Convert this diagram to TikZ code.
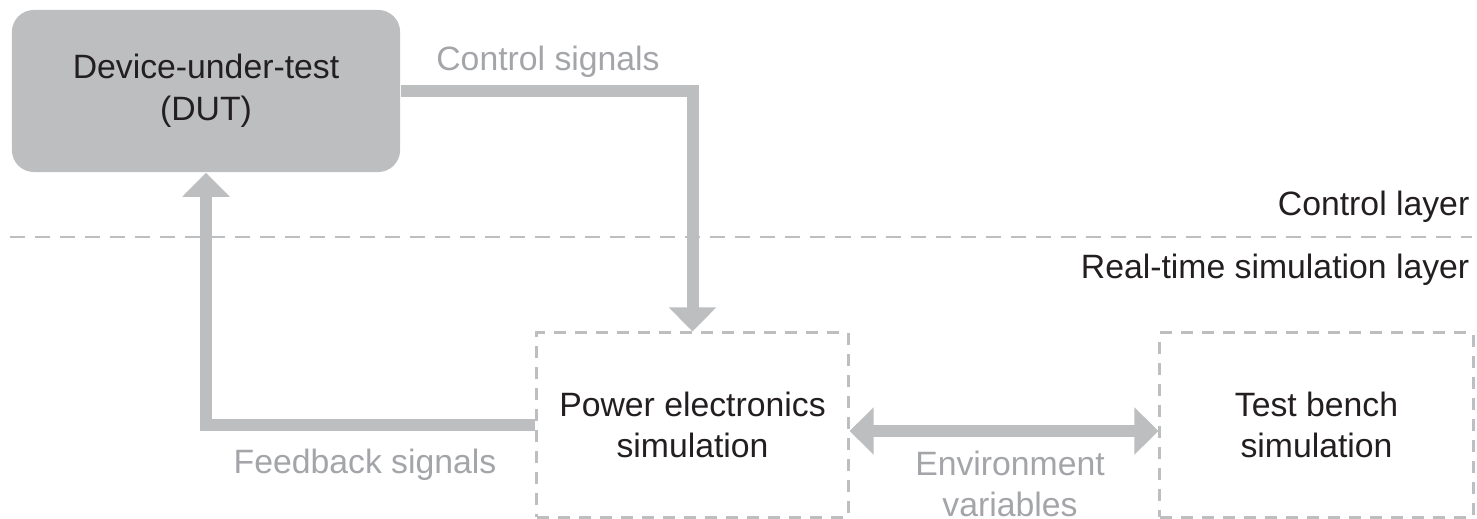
\documentclass[tikz,border=0pt]{standalone}
\usepackage{fontspec}
\setmainfont{Liberation Sans}
\usepackage{xcolor}
\usetikzlibrary{arrows.meta,positioning}
\definecolor{boxgray}{RGB}{188,190,192}
\definecolor{labelgray}{RGB}{163,165,168}
\definecolor{inkdark}{RGB}{35,31,32}
\newcommand{\figfont}{\fontsize{9.6}{11.9}\selectfont}
\tikzset{
  dutbox/.style={fill=boxgray, rounded corners=0.22cm, align=center, minimum width=3.88cm, minimum height=1.62cm, font=\figfont, text=inkdark},
  simbox/.style={draw=boxgray, line width=0.85pt, dash pattern=on 0.12cm off 0.09cm, align=center, minimum height=1.84cm, font=\figfont, text=inkdark},
  layertext/.style={anchor=east, inner xsep=0pt, font=\figfont, text=inkdark},
  siglabel/.style={align=center, font=\figfont, text=labelgray},
  sigarrow/.style={-{Triangle[width=0.46cm, length=0.24cm]}, line width=0.12cm, draw=boxgray},
  botharrow/.style={{Triangle[width=0.46cm, length=0.24cm]}-{Triangle[width=0.46cm, length=0.24cm]}, line width=0.12cm, draw=boxgray},
  layerline/.style={draw=boxgray, line width=0.85pt, dash pattern=on 0.15cm off 0.1cm}
}
\begin{document}
\begin{tikzpicture}[x=0.01cm, y=-0.01cm]
    \useasboundingbox (0,0) rectangle (1477,519);
    % blocks
    \node[dutbox] (dut) at (206,91) {Device-under-test\\(DUT)};
    \node[simbox, minimum width=3.11cm] (pe) at (692.5,425) {Power electronics\\simulation};
    \node[simbox, minimum width=3.13cm] (tb) at (1316.5,425) {Test bench\\simulation};
    % layer border
    \coordinate (lleft) at (10,237);
    \coordinate (lright) at (1472,237);
    \draw[layerline] (lleft) -- (lright);
    \node[layertext] (ctrl) at (1470,207) {Control layer};
    \node[layertext] (rt) at (1470,270) {Real-time simulation layer};
    % signals
    \draw[sigarrow] (dut.east) -| (pe.north);
    \draw[sigarrow] (pe.west) -| (dut.south);
    \draw[botharrow] ([yshift=-0.06cm]pe.east) -- ([yshift=-0.06cm]tb.west);
    \node[siglabel] (ctrllbl) at (548,62) {Control signals};
    \node[siglabel] (fblbl) at (365,465) {Feedback signals};
    \node[siglabel] (envlbl) at (1010,484) {Environment\\variables};
  \end{tikzpicture}
\end{document}
